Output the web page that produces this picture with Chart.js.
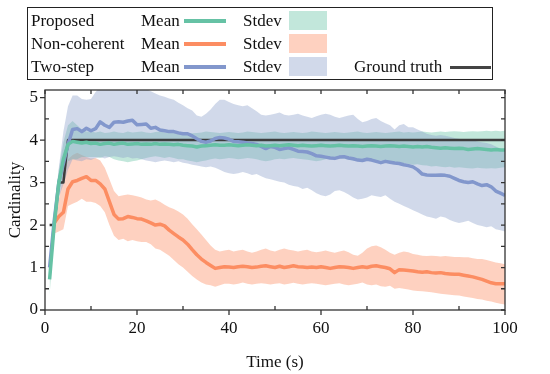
<!DOCTYPE html>
<html>
<head>
<meta charset="utf-8">
<script src="https://cdn.jsdelivr.net/npm/chart.js@4.4.1/dist/chart.umd.min.js"></script>
<style>
  body { margin: 0; background: #fff; }
  #wrap { position: relative; width: 550px; height: 374px; font-family: "Liberation Serif", "Times New Roman", serif; color: #111; }
  #legend { position: absolute; left: 27px; top: 7px; width: 466px; height: 73px; border: 1.5px solid #222; box-sizing: border-box; }
  .t { position: absolute; font-size: 17px; line-height: 20px; white-space: nowrap; }
  .ln { position: absolute; height: 4px; }
  .sw { position: absolute; width: 38px; height: 19px; }
</style>
</head>
<body>
<div id="wrap">
  <canvas id="grafico" width="550" height="374"></canvas>
  <div id="legend"></div>
  <!-- leyenda (coordenadas absolutas dentro de #wrap) -->
  <span class="t" style="left:31px;top:11px">Proposed</span>
  <span class="t" style="left:141px;top:11px">Mean</span>
  <div class="ln" style="left:184px;top:19px;width:42px;background:#66c2a5"></div>
  <span class="t" style="left:243px;top:11px">Stdev</span>
  <div class="sw" style="left:289px;top:11px;background:rgba(102,194,165,0.4)"></div>

  <span class="t" style="left:31px;top:34px">Non-coherent</span>
  <span class="t" style="left:141px;top:34px">Mean</span>
  <div class="ln" style="left:184px;top:42px;width:42px;background:#fc8d62"></div>
  <span class="t" style="left:243px;top:34px">Stdev</span>
  <div class="sw" style="left:289px;top:34px;background:rgba(252,141,98,0.4)"></div>

  <span class="t" style="left:31px;top:57px">Two-step</span>
  <span class="t" style="left:141px;top:57px">Mean</span>
  <div class="ln" style="left:184px;top:65px;width:42px;background:#8297cc"></div>
  <span class="t" style="left:243px;top:57px">Stdev</span>
  <div class="sw" style="left:289px;top:57px;background:rgba(141,160,203,0.4)"></div>

  <span class="t" style="left:354px;top:57px">Ground truth</span>
  <div class="ln" style="left:450px;top:66px;width:41px;height:2.5px;background:#444"></div>
</div>
<script>
// Datos
const tiempo = [1,2,3,4,5,6,7,8,9,10,11,12,13,14,15,16,17,18,19,20,21,22,23,24,25,26,27,28,29,30,
  31,32,33,34,35,36,37,38,39,40,41,42,43,44,45,46,47,48,49,50,51,52,53,54,55,56,57,58,59,60,
  61,62,63,64,65,66,67,68,69,70,71,72,73,74,75,76,77,78,79,80,81,82,83,84,85,86,87,88,89,90,
  91,92,93,94,95,96,97,98,99,100];

const verdad = [2,2,3,3,4,4,4,4,4,4,4,4,4,4,4,4,4,4,4,4,4,4,4,4,4,4,4,4,4,4,
  4,4,4,4,4,4,4,4,4,4,4,4,4,4,4,4,4,4,4,4,4,4,4,4,4,4,4,4,4,4,
  4,4,4,4,4,4,4,4,4,4,4,4,4,4,4,4,4,4,4,4,4,4,4,4,4,4,4,4,4,4,
  4,4,4,4,4,4,4,4,4,4];

// Proposed
const propMedia = [0.72,2.0,3.0,3.55,3.9,3.97,3.95,3.93,3.95,3.92,3.93,3.9,3.92,3.93,3.9,3.92,3.93,3.9,3.91,3.92,
  3.9,3.91,3.9,3.92,3.9,3.91,3.9,3.89,3.9,3.88,3.87,3.86,3.84,3.86,3.87,3.88,3.89,3.88,3.88,3.89,
  3.88,3.87,3.88,3.89,3.88,3.87,3.88,3.86,3.87,3.88,3.87,3.88,3.89,3.88,3.87,3.88,3.87,3.86,3.87,3.88,
  3.87,3.86,3.87,3.88,3.87,3.86,3.87,3.86,3.85,3.86,3.87,3.86,3.85,3.86,3.87,3.86,3.85,3.86,3.85,3.84,
  3.85,3.84,3.85,3.83,3.82,3.81,3.82,3.81,3.8,3.81,3.8,3.78,3.79,3.8,3.79,3.78,3.77,3.78,3.77,3.77];
const propAlto = [0.9,2.3,3.3,3.95,4.35,4.45,4.35,4.25,4.2,4.2,4.18,4.2,4.17,4.18,4.2,4.18,4.17,4.2,4.18,4.19,
  4.2,4.18,4.17,4.19,4.2,4.18,4.17,4.18,4.2,4.18,4.17,4.16,4.17,4.18,4.2,4.19,4.18,4.17,4.18,4.19,
  4.18,4.17,4.18,4.2,4.19,4.18,4.17,4.18,4.19,4.2,4.18,4.17,4.18,4.19,4.18,4.17,4.18,4.2,4.19,4.18,
  4.17,4.18,4.19,4.18,4.17,4.18,4.19,4.2,4.18,4.17,4.18,4.19,4.18,4.17,4.18,4.19,4.2,4.18,4.19,4.18,
  4.19,4.2,4.19,4.18,4.19,4.2,4.19,4.2,4.21,4.2,4.19,4.2,4.21,4.2,4.21,4.22,4.21,4.22,4.21,4.22];
const propBajo = [0.35,1.8,2.7,3.15,3.5,3.55,3.55,3.6,3.6,3.6,3.6,3.58,3.62,3.6,3.55,3.52,3.5,3.48,3.5,3.52,
  3.55,3.58,3.6,3.62,3.6,3.58,3.6,3.58,3.55,3.55,3.52,3.5,3.48,3.5,3.52,3.55,3.57,3.55,3.56,3.58,
  3.57,3.55,3.56,3.58,3.57,3.55,3.52,3.5,3.52,3.55,3.56,3.55,3.57,3.58,3.56,3.55,3.54,3.52,3.5,3.52,
  3.55,3.56,3.55,3.57,3.56,3.54,3.52,3.53,3.55,3.54,3.52,3.5,3.52,3.5,3.48,3.47,3.45,3.46,3.44,3.42,
  3.43,3.41,3.4,3.38,3.39,3.37,3.36,3.37,3.35,3.36,3.35,3.34,3.33,3.35,3.34,3.33,3.34,3.33,3.35,3.36];

// Non-coherent
const noCohMedia = [null,2.05,2.2,2.3,2.85,3.02,3.05,3.1,3.14,3.05,3.05,2.97,2.85,2.55,2.25,2.14,2.15,2.2,2.18,2.15,
  2.14,2.1,2.05,2.0,2.02,1.98,1.88,1.8,1.72,1.65,1.55,1.42,1.3,1.2,1.12,1.05,0.98,1.0,1.02,1.01,
  1.0,1.02,1.03,1.02,1.0,1.01,1.03,1.04,1.02,1.0,1.03,1.0,1.02,1.04,1.02,1.01,1.0,1.01,1.0,1.02,
  1.0,0.98,1.0,1.02,1.01,1.0,0.98,1.0,1.02,1.0,1.03,1.04,1.02,1.0,0.97,0.88,0.95,0.94,0.93,0.92,
  0.9,0.89,0.9,0.88,0.87,0.88,0.86,0.85,0.84,0.84,0.82,0.8,0.78,0.75,0.72,0.68,0.64,0.62,0.62,0.62];
const noCohAlto = [null,2.3,2.6,3.2,3.55,3.65,3.7,3.65,3.6,3.57,3.58,3.52,3.35,3.08,2.8,2.68,2.7,2.72,2.7,2.68,
  2.65,2.6,2.58,2.6,2.55,2.48,2.42,2.38,2.32,2.25,2.15,2.02,1.9,1.78,1.65,1.52,1.42,1.38,1.4,1.42,
  1.38,1.4,1.42,1.38,1.35,1.38,1.42,1.45,1.4,1.38,1.42,1.45,1.42,1.4,1.38,1.4,1.42,1.38,1.36,1.38,
  1.4,1.37,1.35,1.38,1.4,1.36,1.3,1.28,1.35,1.45,1.5,1.52,1.48,1.42,1.35,1.3,1.35,1.38,1.36,1.32,
  1.3,1.28,1.27,1.28,1.27,1.26,1.27,1.26,1.25,1.25,1.24,1.24,1.22,1.2,1.2,1.18,1.15,1.12,1.1,1.08];
const noCohBajo = [null,1.8,1.85,1.9,2.45,2.5,2.55,2.62,2.55,2.55,2.52,2.45,2.3,2.0,1.75,1.65,1.68,1.62,1.65,1.62,
  1.6,1.6,1.55,1.45,1.42,1.35,1.28,1.18,1.08,1.0,0.9,0.8,0.72,0.65,0.6,0.58,0.55,0.58,0.62,0.62,
  0.6,0.62,0.65,0.62,0.6,0.62,0.63,0.62,0.6,0.62,0.63,0.6,0.62,0.64,0.62,0.6,0.62,0.63,0.62,0.6,
  0.58,0.6,0.62,0.63,0.6,0.58,0.6,0.62,0.65,0.6,0.58,0.6,0.56,0.55,0.57,0.5,0.52,0.5,0.48,0.46,
  0.45,0.44,0.43,0.42,0.4,0.38,0.37,0.36,0.35,0.34,0.32,0.3,0.28,0.26,0.25,0.22,0.2,0.17,0.15,0.13];

// Two-step
const dosMedia = [1.0,2.1,3.0,3.45,3.9,4.25,4.27,4.2,4.28,4.22,4.27,4.43,4.35,4.3,4.42,4.43,4.42,4.45,4.47,4.36,
  4.37,4.38,4.28,4.3,4.24,4.22,4.2,4.2,4.17,4.15,4.15,4.1,4.03,3.97,3.95,3.98,4.04,4.06,4.05,4.02,
  3.97,3.96,3.95,3.93,3.92,3.9,3.85,3.8,3.85,3.83,3.78,3.8,3.82,3.78,3.74,3.73,3.72,3.68,3.63,3.62,
  3.6,3.58,3.57,3.6,3.61,3.58,3.56,3.53,3.52,3.55,3.53,3.5,3.47,3.5,3.48,3.46,3.45,3.42,3.4,3.37,
  3.3,3.2,3.18,3.17,3.17,3.18,3.17,3.15,3.1,3.05,3.02,3.0,3.02,2.97,2.93,2.95,2.9,2.8,2.75,2.7];
const dosAlto = [1.1,2.35,3.35,4.2,4.8,5.05,5.05,4.97,4.95,4.97,5.13,5.25,5.3,5.28,5.3,5.32,5.3,5.28,5.3,5.25,
  5.22,5.2,5.15,5.1,5.05,5.02,4.98,4.95,4.88,4.82,4.75,4.7,4.58,4.55,4.62,4.72,4.85,4.95,4.95,4.9,
  4.85,4.82,4.8,4.82,4.75,4.68,4.6,4.58,4.6,4.62,4.65,4.6,4.58,4.6,4.62,4.58,4.55,4.52,4.56,4.6,
  4.62,4.6,4.55,4.52,4.55,4.58,4.6,4.5,4.42,4.45,4.5,4.52,4.45,4.4,4.35,4.25,4.35,4.38,4.3,4.3,
  4.25,4.2,4.15,4.12,4.1,4.12,4.1,4.08,4.05,4.03,4.0,3.98,4.0,3.97,3.95,3.93,3.9,3.85,3.8,3.75];
const dosBajo = [0.9,1.85,2.65,2.95,3.3,3.55,3.52,3.5,3.55,3.53,3.58,3.6,3.57,3.6,3.62,3.6,3.58,3.6,3.57,3.58,
  3.55,3.52,3.5,3.48,3.5,3.52,3.5,3.48,3.5,3.47,3.45,3.42,3.4,3.38,3.36,3.38,3.35,3.3,3.25,3.22,
  3.2,3.22,3.25,3.22,3.18,3.2,3.15,3.1,3.08,3.05,3.02,3.0,2.95,2.92,2.9,2.85,2.88,2.82,2.75,2.7,
  2.68,2.72,2.8,2.82,2.78,2.72,2.65,2.6,2.62,2.65,2.7,2.68,2.66,2.7,2.62,2.55,2.5,2.45,2.4,2.35,
  2.3,2.25,2.2,2.18,2.15,2.2,2.18,2.12,2.08,2.05,2.07,2.1,2.05,2.0,1.98,1.95,1.97,1.9,1.88,1.85];

const ticksY = [0, 1, 2, 3, 4, 5];

const pts = arr => tiempo.map((t, i) => ({ x: t, y: arr[i] }));

function banda(bajo, alto, color) {
    return [
        { data: pts(bajo), borderWidth: 0, pointRadius: 0, fill: false, borderColor: 'transparent' },
        { data: pts(alto), borderWidth: 0, pointRadius: 0, fill: '-1', borderColor: 'transparent', backgroundColor: color }
    ];
}

function linea(arr, color, ancho) {
    return { data: pts(arr), borderColor: color, borderWidth: ancho, pointRadius: 0, fill: false, borderJoinStyle: 'round' };
}

// Marco y marcas de los ejes (hacia dentro / fuera como en el original)
const marco = {
    id: 'marco',
    afterDatasetsDraw(chart) {
        const { ctx, chartArea: a, scales: { x, y } } = chart;
        ctx.save();
        ctx.strokeStyle = '#333';
        ctx.lineWidth = 1.3;
        ctx.strokeRect(a.left, a.top, a.right - a.left, a.bottom - a.top);
        ctx.beginPath();
        for (let v = 0; v <= 100; v += 10) {
            const px = x.getPixelForValue(v);
            if (v % 20 === 0) { ctx.moveTo(px, a.bottom); ctx.lineTo(px, a.bottom + 5); }
            else { ctx.moveTo(px, a.bottom); ctx.lineTo(px, a.bottom - 4); }
            ctx.moveTo(px, a.top); ctx.lineTo(px, a.top + 4);
        }
        for (let v = 0; v <= 5; v += 0.5) {
            const py = y.getPixelForValue(v);
            if (v % 1 === 0) { ctx.moveTo(a.left - 5, py); ctx.lineTo(a.left, py); }
            else { ctx.moveTo(a.left, py); ctx.lineTo(a.left + 4, py); }
            ctx.moveTo(a.right, py); ctx.lineTo(a.right - 4, py);
        }
        ctx.stroke();
        ctx.restore();
    }
};

window.addEventListener('DOMContentLoaded', () => {
    Chart.defaults.font.family = '"Liberation Serif", "Times New Roman", serif';
    Chart.defaults.color = '#111';

    const ctx = document.getElementById('grafico').getContext('2d');
    new Chart(ctx, {
        type: 'line',
        data: {
            datasets: [
                ...banda(dosBajo, dosAlto, 'rgba(141,160,203,0.4)'),
                ...banda(propBajo, propAlto, 'rgba(102,194,165,0.4)'),
                ...banda(noCohBajo, noCohAlto, 'rgba(252,141,98,0.4)'),
                linea(propMedia, '#66c2a5', 3.5),
                linea(noCohMedia, '#fc8d62', 3.5),
                linea(dosMedia, '#8297cc', 3.5),
                linea(verdad, '#3d3d3d', 2.5)
            ]
        },
        options: {
            responsive: false,
            animation: false,
            layout: { padding: { top: 90, right: 45, left: 0, bottom: 0 } },
            plugins: {
                legend: { display: false },
                tooltip: { enabled: false },
                filler: { drawTime: 'beforeDatasetsDraw' }
            },
            scales: {
                x: {
                    type: 'linear',
                    min: 0, max: 100,
                    grid: { display: false, drawTicks: false },
                    border: { display: false },
                    ticks: { stepSize: 20, padding: 8, font: { size: 17 }, maxRotation: 0 },
                    title: { display: true, text: 'Time (s)', font: { size: 17 }, padding: { top: 0, bottom: 1 } },
                    afterFit: s => { s.height = 64; }
                },
                y: {
                    min: 0, max: 5.18,
                    grid: { display: false, drawTicks: false },
                    border: { display: false },
                    ticks: { padding: 7, font: { size: 17 } },
                    afterBuildTicks: s => { s.ticks = ticksY.map(v => ({ value: v })); },
                    title: { display: true, text: 'Cardinality', font: { size: 17 }, padding: { top: 5, bottom: 0 } },
                    afterFit: s => { s.width = 45; }
                }
            }
        },
        plugins: [marco]
    });
});
</script>
</body>
</html>
